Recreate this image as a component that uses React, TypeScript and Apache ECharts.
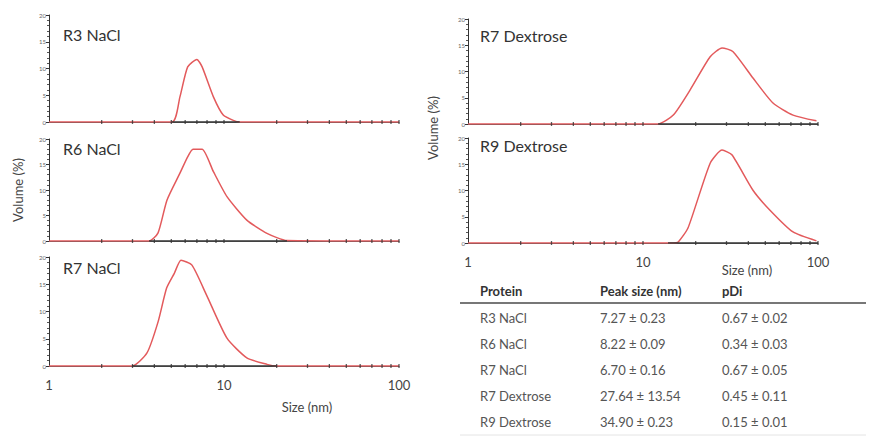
import React, { useEffect, useRef } from "react";
import * as echarts from "echarts";

// ---- data ----
const panelNames = ["R3 NaCl", "R6 NaCl", "R7 NaCl", "R7 Dextrose", "R9 Dextrose"];

const r3Size = [1, 5.05, 5.6, 6.2, 7.0, 7.5, 8.7, 9.9, 11.3, 12.3, 100];
const r3Vol = [0, 0, 4.7, 10.3, 11.7, 10.3, 4.7, 1.3, 0.3, 0, 0];

const r6Size = [1, 3.73, 4.2, 4.72, 5.6, 6.2, 6.65, 7.5, 8.7, 10.4, 13.5, 17.6, 22.9, 100];
const r6Vol = [0, 0, 1.6, 8.0, 13.3, 16.5, 18.0, 18.0, 13.6, 8.7, 4.1, 1.5, 0.1, 0];

const r7Size = [1, 2.98, 3.63, 4.2, 4.7, 5.2, 5.68, 6.56, 7.95, 10.4, 13.5, 17.6, 20, 100];
const r7Vol = [0, 0, 2.4, 8.1, 14.3, 17.0, 19.4, 18.5, 13.0, 5.1, 1.5, 0.3, 0, 0];

const r7dSize = [1, 12.2, 14.9, 18.6, 24.2, 28.3, 32.6, 42.4, 55.3, 72, 98];
const r7dVol = [0, 0, 1.7, 6.5, 12.8, 14.5, 13.8, 8.8, 4.0, 1.7, 0.6];

const r9dSize = [1, 14.9, 15.9, 18.1, 24.2, 28.3, 32.2, 42.4, 53, 72, 98];
const r9dVol = [0, 0, 0.2, 2.9, 15.2, 17.7, 16.8, 10.1, 6.3, 2.1, 0.4];

// black baseline segments (start/end size, nm)
const baseStart = [5.05, 3.73, 2.98, 12.2, 13.9];
const baseEnd = [12.3, 22.9, 20, 100, 100];

const xTickSizes = [2, 3, 4, 5, 6, 7, 8, 9, 10, 20, 30, 40, 50, 60, 70, 80, 90, 100];

const proteins = ["R3 NaCl", "R6 NaCl", "R7 NaCl", "R7 Dextrose", "R9 Dextrose"];
const peakSizes = ["7.27 ± 0.23", "8.22 ± 0.09", "6.70 ± 0.16", "27.64 ± 13.54", "34.90 ± 0.23"];
const pdis = ["0.67 ± 0.02", "0.34 ± 0.03", "0.67 ± 0.05", "0.45 ± 0.11", "0.15 ± 0.01"];
const tableHeader = ["Protein", "Peak size (nm)", "pDi"];

const sizesAll = [r3Size, r6Size, r7Size, r7dSize, r9dSize];
const volsAll = [r3Vol, r6Vol, r7Vol, r7dVol, r9dVol];

const FONT = "Lato, 'Open Sans', sans-serif";
const RED = "#e35a5c";

export default function App() {
  const ref = useRef<HTMLDivElement>(null);
  useEffect(() => {
    if (!ref.current) return;
    const chart = echarts.init(ref.current, undefined, { renderer: "svg" });
    const grids = [
      { left: 49, top: 15, width: 350, height: 107 },
      { left: 49, top: 139, width: 350, height: 102 },
      { left: 49, top: 257, width: 350, height: 109 },
      { left: 468, top: 19, width: 350, height: 105 },
      { left: 468, top: 138, width: 350, height: 105 },
    ];
    const xAxes = grids.map((_, i) => ({
      type: "value",
      gridIndex: i,
      min: 0,
      max: 2,
      interval: 1,
      splitLine: { show: false },
      axisLine: { show: true, lineStyle: { color: "#555", width: 1 } },
      axisTick: { show: false },
      axisLabel: {
        show: i === 2 || i === 4,
        formatter: (v: number) => String(Math.round(Math.pow(10, v))),
        fontSize: 13,
        color: "#444",
        margin: 12,
        fontFamily: FONT,
      },
    }));
    const yAxes = grids.map((_, i) => ({
      type: "value",
      gridIndex: i,
      min: 0,
      max: 20,
      interval: 5,
      splitLine: { show: false },
      axisLine: { show: true, lineStyle: { color: "#333", width: 1 } },
      axisTick: { show: true, length: 3, lineStyle: { color: "#333" } },
      minorTick: { show: true, splitNumber: 5, length: 2, lineStyle: { color: "#555" } },
      axisLabel: { fontSize: 6, color: "#666", margin: 3, fontFamily: FONT },
    }));
    const series: any[] = [];
    grids.forEach((_, i) => {
      series.push({
        type: "line",
        xAxisIndex: i,
        yAxisIndex: i,
        data: sizesAll[i].map((s, k) => [Math.log10(s), volsAll[i][k]]),
        showSymbol: false,
        smooth: 0.2,
        lineStyle: { color: RED, width: 1.5 },
        z: 3,
      });
      series.push({
        type: "line",
        xAxisIndex: i,
        yAxisIndex: i,
        data: [
          [Math.log10(baseStart[i]), 0],
          [Math.log10(baseEnd[i]), 0],
        ],
        showSymbol: false,
        lineStyle: { color: "#333", width: 1.5 },
        z: 4,
      });
      series.push({
        type: "scatter",
        xAxisIndex: i,
        yAxisIndex: i,
        data: xTickSizes.map((s) => [Math.log10(s), 0]),
        symbol: "rect",
        symbolSize: [1.3, 4],
        itemStyle: { color: "#333" },
        silent: true,
        z: 5,
      });
    });

    const labelPos = [
      [63, 34],
      [63, 148],
      [63, 267],
      [480, 35],
      [480, 145],
    ];
    const graphics: any[] = panelNames.map((n, i) => ({
      type: "text",
      x: labelPos[i][0],
      y: labelPos[i][1],
      style: { text: n, fill: "#333", font: `16px ${FONT}`, align: "left", verticalAlign: "middle" },
    }));
    graphics.push(
      {
        type: "text",
        x: 18,
        y: 190,
        rotation: Math.PI / 2,
        style: { text: "Volume (%)", fill: "#444", font: `13px ${FONT}`, align: "center", verticalAlign: "middle" },
      },
      {
        type: "text",
        x: 433,
        y: 128,
        rotation: Math.PI / 2,
        style: { text: "Volume (%)", fill: "#444", font: `13px ${FONT}`, align: "center", verticalAlign: "middle" },
      },
      {
        type: "text",
        x: 307,
        y: 407,
        style: { text: "Size (nm)", fill: "#444", font: `13px ${FONT}`, align: "center", verticalAlign: "middle" },
      },
      {
        type: "text",
        x: 747,
        y: 270,
        style: { text: "Size (nm)", fill: "#444", font: `13px ${FONT}`, align: "center", verticalAlign: "middle" },
      }
    );
    const colX = [480, 600, 722];
    tableHeader.forEach((h, c) => {
      graphics.push({
        type: "text",
        x: colX[c],
        y: 291,
        style: { text: h, fill: "#333", font: `bold 13px ${FONT}`, align: "left", verticalAlign: "middle" },
      });
    });
    graphics.push({
      type: "line",
      shape: { x1: 460, y1: 303, x2: 866, y2: 303 },
      style: { stroke: "#777", lineWidth: 2 },
    });
    graphics.push({
      type: "line",
      shape: { x1: 460, y1: 435, x2: 866, y2: 435 },
      style: { stroke: "#e4e4e4", lineWidth: 1 },
    });
    const rowY = [318, 344, 370, 396, 422];
    proteins.forEach((p, r) => {
      const cells = [p, peakSizes[r], pdis[r]];
      cells.forEach((t, c) => {
        graphics.push({
          type: "text",
          x: colX[c],
          y: rowY[r],
          style: { text: t, fill: "#555", font: `13px ${FONT}`, align: "left", verticalAlign: "middle" },
        });
      });
    });

    chart.setOption({
      animation: false,
      backgroundColor: "#ffffff",
      grid: grids,
      xAxis: xAxes,
      yAxis: yAxes,
      series,
      graphic: graphics,
    });
    return () => chart.dispose();
  }, []);
  return (
    <div
      ref={ref}
      style={{ position: "absolute", left: 0, top: 0, width: 870, height: 437 }}
    />
  );
}
